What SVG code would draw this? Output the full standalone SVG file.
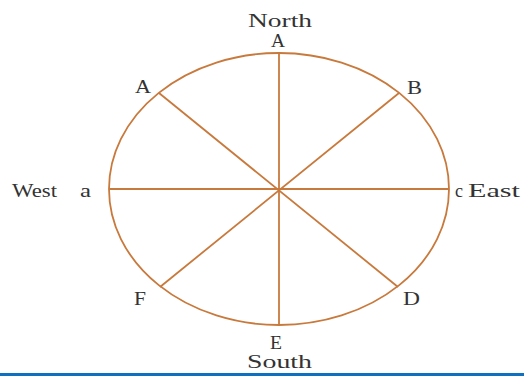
<svg xmlns="http://www.w3.org/2000/svg" width="524" height="377" viewBox="0 0 524 377">
<style>
.ln{stroke:#c8793c;stroke-width:1.8;fill:none}
.t{font-family:"Liberation Serif","DejaVu Serif",serif;font-size:19px;fill:#333;lengthAdjust:spacingAndGlyphs}
</style>
<rect width="524" height="377" fill="#fff"/>
<g id="circle"><ellipse class="ln" cx="279" cy="189" rx="170" ry="136"/></g>
<g id="connectors">
<line class="ln" x1="279" y1="53" x2="279" y2="325"/>
<line class="ln" x1="109" y1="189" x2="449" y2="189"/>
<line class="ln" x1="159" y1="93" x2="398" y2="287"/>
<line class="ln" x1="399" y1="93" x2="160" y2="287"/>
</g>
<g id="north"><text class="t" x="248" y="27" textLength="64" lengthAdjust="spacingAndGlyphs">North</text><text class="t" x="271" y="47" textLength="14" lengthAdjust="spacingAndGlyphs">A</text></g>
<g id="nodeA"><text class="t" x="135" y="93" textLength="16" lengthAdjust="spacingAndGlyphs">A</text></g>
<g id="nodeB"><text class="t" x="407" y="94" textLength="15" lengthAdjust="spacingAndGlyphs">B</text></g>
<g id="west"><text class="t" x="12" y="197" textLength="45" lengthAdjust="spacingAndGlyphs">West</text><text class="t" x="80" y="197" textLength="11" lengthAdjust="spacingAndGlyphs">a</text></g>
<g id="east"><text class="t" x="455" y="197" textLength="8" lengthAdjust="spacingAndGlyphs">c</text><text class="t" x="468" y="197" textLength="52" lengthAdjust="spacingAndGlyphs">East</text></g>
<g id="nodeF"><text class="t" x="134" y="305" textLength="12" lengthAdjust="spacingAndGlyphs">F</text></g>
<g id="nodeD"><text class="t" x="403" y="305" textLength="17" lengthAdjust="spacingAndGlyphs">D</text></g>
<g id="south"><text class="t" x="270" y="349" textLength="12" lengthAdjust="spacingAndGlyphs">E</text><text class="t" x="247" y="368" textLength="65" lengthAdjust="spacingAndGlyphs">South</text></g>
<rect x="0" y="373" width="524" height="3" fill="#1070c0"/>
</svg>
